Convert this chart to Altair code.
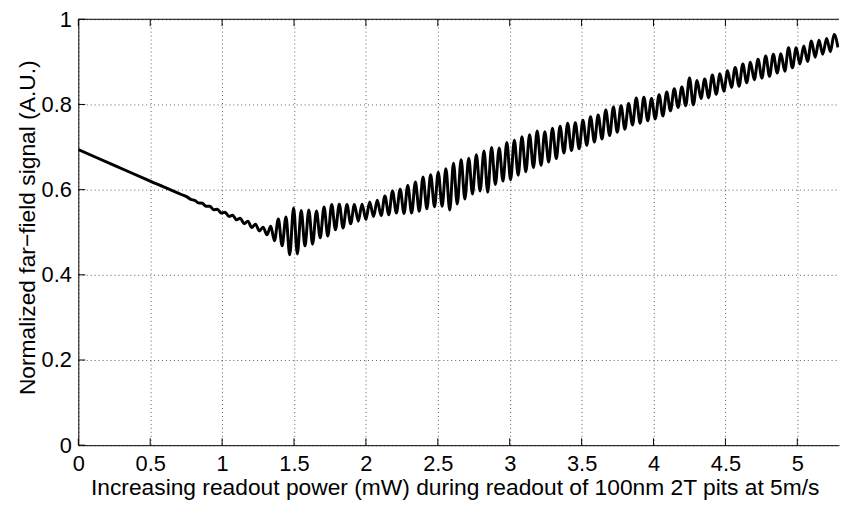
import altair as alt
import pandas as pd

# ---- data ----
# slow decline before the oscillations start (small ripples from ~0.75 mW)
lead_x = [0.0, 0.25, 0.5, 0.72, 0.756, 0.782, 0.809, 0.835, 0.862, 0.888, 0.914, 0.941,
          0.967, 0.994, 1.020, 1.047, 1.073, 1.100, 1.126, 1.153, 1.179, 1.206, 1.232,
          1.259, 1.285, 1.312]
lead_y = [0.694, 0.657, 0.620, 0.588, 0.583, 0.577, 0.575, 0.569, 0.568, 0.561, 0.561, 0.553,
          0.554, 0.545, 0.547, 0.537, 0.540, 0.529, 0.533, 0.520, 0.526, 0.511, 0.519,
          0.503, 0.512, 0.494]

# oscillating part: local maxima
peak_x = [1.338, 1.391, 1.444, 1.497, 1.550, 1.603, 1.656, 1.709, 1.762, 1.815,
          1.868, 1.920, 1.973, 2.026, 2.079, 2.132, 2.185, 2.238, 2.291, 2.344,
          2.397, 2.450, 2.503, 2.556, 2.609, 2.662, 2.715, 2.768, 2.821, 2.874,
          2.927, 2.980, 3.032, 3.085, 3.138, 3.191, 3.244, 3.297, 3.350, 3.403,
          3.456, 3.509, 3.562, 3.615, 3.668, 3.721, 3.774, 3.827, 3.880, 3.933,
          3.986, 4.039, 4.092, 4.144, 4.197, 4.250, 4.303, 4.356, 4.409, 4.462,
          4.515, 4.568, 4.621, 4.674, 4.727, 4.780, 4.833, 4.886, 4.939, 4.992,
          5.045, 5.098, 5.151, 5.204, 5.256]
peak_y = [0.514, 0.531, 0.536, 0.557, 0.551, 0.552, 0.550, 0.559, 0.565, 0.566,
          0.565, 0.565, 0.566, 0.571, 0.575, 0.585, 0.597, 0.601, 0.610, 0.618,
          0.630, 0.635, 0.641, 0.649, 0.662, 0.670, 0.674, 0.682, 0.691, 0.699,
          0.698, 0.711, 0.716, 0.724, 0.729, 0.738, 0.736, 0.744, 0.749, 0.756,
          0.757, 0.763, 0.771, 0.775, 0.787, 0.794, 0.797, 0.802, 0.815, 0.817,
          0.814, 0.823, 0.829, 0.837, 0.841, 0.862, 0.856, 0.860, 0.869, 0.872,
          0.879, 0.887, 0.895, 0.899, 0.906, 0.914, 0.918, 0.919, 0.933, 0.933,
          0.937, 0.949, 0.951, 0.955, 0.964]

# oscillating part: local minima
trough_x = [1.364, 1.417, 1.470, 1.523, 1.576, 1.629, 1.682, 1.735, 1.788, 1.841,
            1.894, 1.947, 2.000, 2.053, 2.106, 2.159, 2.212, 2.265, 2.318, 2.371,
            2.424, 2.477, 2.530, 2.583, 2.635, 2.688, 2.741, 2.794, 2.847, 2.900,
            2.953, 3.006, 3.059, 3.112, 3.165, 3.218, 3.271, 3.324, 3.377, 3.430,
            3.483, 3.536, 3.589, 3.642, 3.695, 3.748, 3.801, 3.854, 3.907, 3.960,
            4.012, 4.065, 4.118, 4.171, 4.224, 4.277, 4.330, 4.383, 4.436, 4.489,
            4.542, 4.595, 4.648, 4.701, 4.754, 4.807, 4.860, 4.913, 4.966, 5.018,
            5.071, 5.124, 5.177, 5.230, 5.283]
trough_y = [0.480, 0.468, 0.447, 0.449, 0.468, 0.472, 0.487, 0.491, 0.506, 0.510,
            0.520, 0.526, 0.530, 0.537, 0.539, 0.541, 0.545, 0.544, 0.545, 0.549,
            0.555, 0.560, 0.561, 0.552, 0.566, 0.578, 0.590, 0.597, 0.594, 0.612,
            0.620, 0.623, 0.634, 0.642, 0.652, 0.657, 0.665, 0.673, 0.686, 0.692,
            0.696, 0.704, 0.712, 0.719, 0.727, 0.735, 0.742, 0.752, 0.756, 0.762,
            0.766, 0.773, 0.785, 0.793, 0.797, 0.799, 0.814, 0.816, 0.824, 0.831,
            0.840, 0.843, 0.851, 0.858, 0.862, 0.866, 0.874, 0.878, 0.886, 0.895,
            0.901, 0.911, 0.918, 0.924, 0.934]

x_ticks = [0, 0.5, 1, 1.5, 2, 2.5, 3, 3.5, 4, 4.5, 5]
y_ticks = [0, 0.2, 0.4, 0.6, 0.8, 1]
x_max = 5.29

x_title = "Increasing readout power (mW) during readout of 100nm 2T pits at 5m/s"
y_title = "Normalized far\u2212field signal (A.U.)"

# ---- build tables ----
xs = list(lead_x)
ys = list(lead_y)
for px, py, tx, ty in zip(peak_x, peak_y, trough_x, trough_y):
    xs += [px, tx]
    ys += [py, ty]
df = pd.DataFrame({"x": xs, "y": ys})
xt = pd.DataFrame({"x": x_ticks})
yt = pd.DataFrame({"y": y_ticks})
frame = pd.DataFrame({"x": [0.0], "x1": [x_max], "y": [1.0]})

FONT = "Liberation Sans"
W, H = 768, 430
x_scale = alt.Scale(domain=[0, x_max], nice=False, zero=False)
y_scale = alt.Scale(domain=[0, 1], nice=False)

grid_kw = dict(grid=True, gridDash=[1, 3], gridColor="#333333", gridWidth=1, gridOpacity=0.8)
lab_kw = dict(labelFont=FONT, labelFontSize=22, labelColor="black",
              titleFont=FONT, titleFontSize=23, titleFontWeight="normal", titleColor="black",
              domainColor="black", domainWidth=1, ticks=False)

x_axis = alt.Axis(values=x_ticks, format="~g", title=x_title,
                  labelBaseline="alphabetic", labelPadding=26, labelFlush=False,
                  titleX=380, titleY=50, titleBaseline="alphabetic",
                  titleAlign="center", **grid_kw, **lab_kw)
y_axis = alt.Axis(values=y_ticks, format="~g", title=y_title,
                  labelPadding=7, labelFlush=False,
                  titleAngle=270, titleX=-44, titleY=210,
                  titleBaseline="alphabetic", titleAlign="center",
                  **grid_kw, **lab_kw)

line = alt.Chart(df).mark_line(color="black", strokeWidth=3.0, interpolate="monotone",
                               clip=True).encode(
    x=alt.X("x:Q", scale=x_scale, axis=x_axis),
    y=alt.Y("y:Q", scale=y_scale, axis=y_axis),
)

bottom_ticks = alt.Chart(xt).mark_rule(color="black", strokeWidth=1).encode(
    x=alt.X("x:Q", scale=x_scale, axis=x_axis), y=alt.value(H), y2=alt.value(H - 7))
top_ticks = alt.Chart(xt).mark_rule(color="black", strokeWidth=1).encode(
    x=alt.X("x:Q", scale=x_scale, axis=x_axis), y=alt.value(0), y2=alt.value(7))
left_ticks = alt.Chart(yt).mark_rule(color="black", strokeWidth=1).encode(
    y=alt.Y("y:Q", scale=y_scale, axis=y_axis), x=alt.value(0), x2=alt.value(7))
top_border = alt.Chart(frame).mark_rule(color="black", strokeWidth=1).encode(
    x=alt.X("x:Q", scale=x_scale, axis=x_axis), x2="x1:Q",
    y=alt.Y("y:Q", scale=y_scale, axis=y_axis))

chart = alt.layer(line, bottom_ticks, top_ticks, left_ticks, top_border).properties(
    width=W, height=H,
    autosize=alt.AutoSizeParams(type="none"),
    padding={"left": 71, "top": 9, "right": 1, "bottom": 57},
    background="white",
).configure_view(stroke=None)

chart.save("out.html", embed_options={"renderer": "svg", "actions": False})
